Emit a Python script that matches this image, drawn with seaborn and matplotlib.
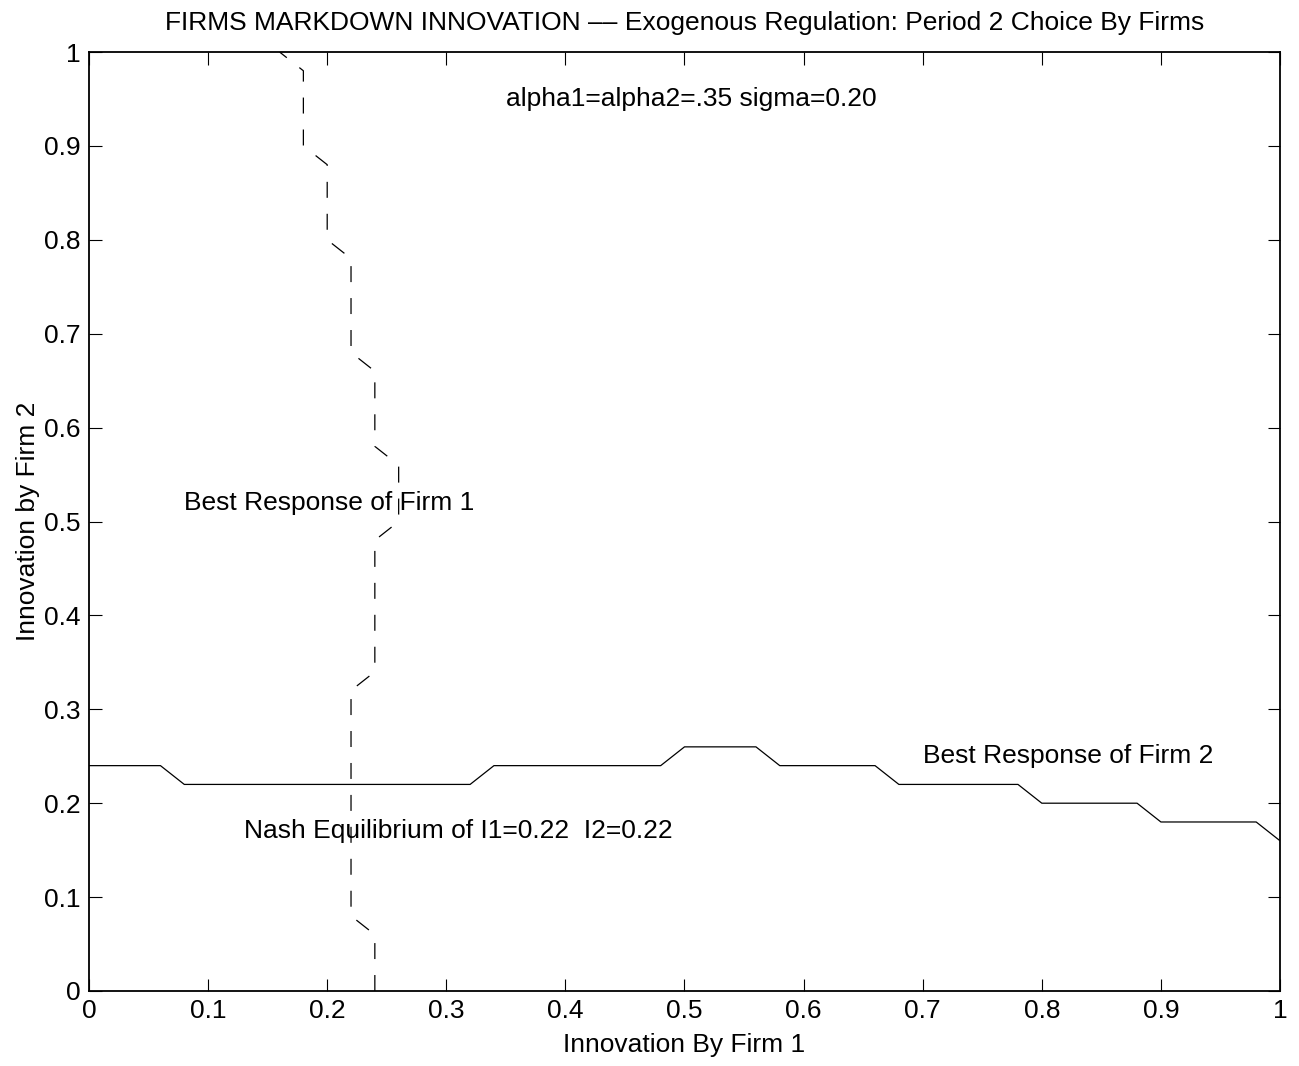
import numpy as np
import pandas as pd
import matplotlib
matplotlib.use("Agg")
import matplotlib.pyplot as plt
import seaborn as sns

# Grid of innovation levels
grid = np.round(np.arange(0, 1.0001, 0.02), 2)

# Best response of firm 2 (innovation of firm 2 for each innovation of firm 1)
br2 = [0.24, 0.24, 0.24, 0.24, 0.22, 0.22, 0.22, 0.22, 0.22, 0.22,
       0.22, 0.22, 0.22, 0.22, 0.22, 0.22, 0.22, 0.24, 0.24, 0.24,
       0.24, 0.24, 0.24, 0.24, 0.24, 0.26, 0.26, 0.26, 0.26, 0.24,
       0.24, 0.24, 0.24, 0.24, 0.22, 0.22, 0.22, 0.22, 0.22, 0.22,
       0.20, 0.20, 0.20, 0.20, 0.20, 0.18, 0.18, 0.18, 0.18, 0.18,
       0.16]
# Best response of firm 1 (innovation of firm 1 for each innovation of firm 2)
br1 = list(br2)

xticks = [0, 0.1, 0.2, 0.3, 0.4, 0.5, 0.6, 0.7, 0.8, 0.9, 1]
ticklabels = ["0", "0.1", "0.2", "0.3", "0.4", "0.5", "0.6", "0.7", "0.8", "0.9", "1"]

sns.set_theme(style="white")
plt.rcParams["font.family"] = ["Liberation Sans", "DejaVu Sans"]
plt.rcParams["lines.scale_dashes"] = False
plt.rcParams["text.color"] = "black"
plt.rcParams["axes.labelcolor"] = "black"

FS = 19

fig = plt.figure(figsize=(12.99, 10.66), dpi=100)
ax = fig.add_axes([89 / 1299, 1 - 991 / 1066, (1280 - 89) / 1299, (991 - 52) / 1066])

df2 = pd.DataFrame({"I1": grid, "I2": br2})
df1 = pd.DataFrame({"I1": br1, "I2": grid})

sns.lineplot(data=df2, x="I1", y="I2", ax=ax, color="black", linewidth=0.9,
             estimator=None, sort=False)
sns.lineplot(data=df1, x="I1", y="I2", ax=ax, color="black", linewidth=0.9,
             estimator=None, sort=False, dashes=False)
ax.lines[-1].set_dashes((11.5, 11.5))

ax.set_xlim(0, 1)
ax.set_ylim(0, 1)
ax.set_xticks(xticks)
ax.set_xticklabels(ticklabels)
ax.set_yticks(xticks)
ax.set_yticklabels(ticklabels)
ax.tick_params(axis="both", which="both", direction="in", length=9, width=0.8,
               labelsize=FS, colors="black", top=True, right=True,
               bottom=True, left=True, pad=6)
for s in ax.spines.values():
    s.set_visible(True)
    s.set_color("black")
    s.set_linewidth(1.3)

ax.set_xlabel("Innovation By Firm 1", fontsize=FS, labelpad=7)
ax.set_ylabel("Innovation by Firm 2", fontsize=FS, labelpad=3)
ax.set_title("FIRMS MARKDOWN INNOVATION \u2013\u2013 Exogenous Regulation: Period 2 Choice By Firms",
             fontsize=FS, pad=16)

ax.text(0.35, 0.95, "alpha1=alpha2=.35 sigma=0.20", fontsize=FS, va="center", ha="left")
ax.text(0.08, 0.52, "Best Response of Firm 1", fontsize=FS, va="center", ha="left")
ax.text(0.13, 0.17, "Nash Equilibrium of I1=0.22  I2=0.22", fontsize=FS, va="center", ha="left")
ax.text(0.70, 0.25, "Best Response of Firm 2", fontsize=FS, va="center", ha="left")

fig.savefig("out.png", dpi=100, facecolor="white")
